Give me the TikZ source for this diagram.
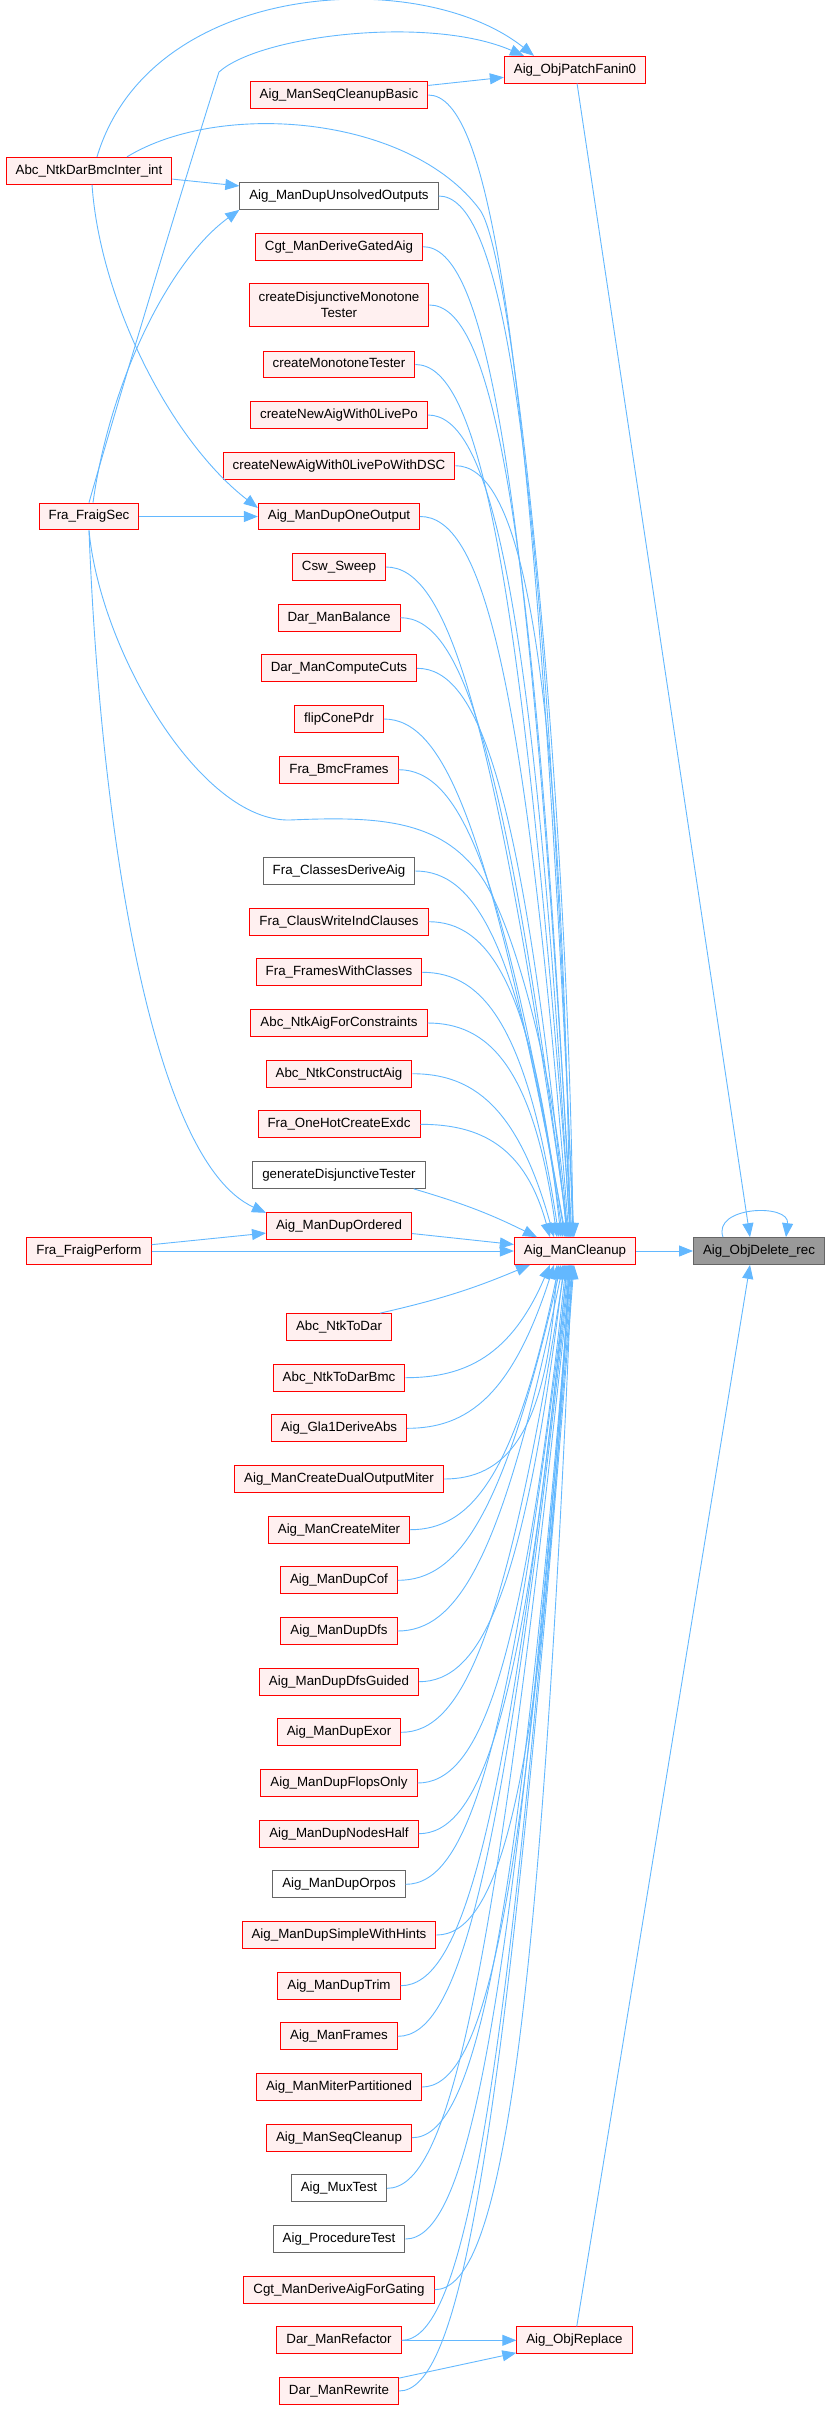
\documentclass[tikz,border=0pt]{standalone}
\usepackage{fontspec}
\setmainfont{Liberation Sans}
\usepackage{tikz}
\usetikzlibrary{shapes, arrows.meta, positioning}
\usetikzlibrary{calc}
\definecolor{linkblue}{HTML}{63B8FF}
\definecolor{redfill}{HTML}{FFF0F0}
\definecolor{greyline}{HTML}{666666}
\definecolor{targetfill}{HTML}{999999}

\begin{document}
\begin{tikzpicture}
  [
    x=1pt, y=-1pt,
    >={Triangle[length=14pt, width=11pt]},
    Box/.style={rectangle, line width=1pt, minimum height=26.7pt, inner xsep=9.5pt, inner ysep=0pt, text height=9.6pt, text depth=2.8pt, font=\fontsize{13.33}{15.7}\selectfont},
    Red/.style={Box, draw=red, fill=redfill},
    Gray/.style={Box, draw=greyline, fill=white},
    Target/.style={Box, draw=greyline, fill=targetfill},
    Multi/.style={Red, align=center, text height=, text depth=, minimum height=43pt},
    Link/.style={draw=linkblue, line width=0.9pt}
  ]
  \useasboundingbox (0,0) rectangle (826,2410);
  % Nodes
  \node[Red] (abcbmcint) at (89, 170.7) {Abc\_NtkDarBmcInter\_int};
  \node[Red] (fraigsec) at (89, 516.5) {Fra\_FraigSec};
  \node[Red] (fraigperform) at (89, 1251) {Fra\_FraigPerform};

  \node[Red] (seqcleanupbasic) at (339, 95) {Aig\_ManSeqCleanupBasic};
  \node[Gray] (dupunsolved) at (339, 196) {Aig\_ManDupUnsolvedOutputs};
  \node[Red] (cgtgated) at (339, 246.7) {Cgt\_ManDeriveGatedAig};
  \node[Multi] (createdisj) at (339, 305) {createDisjunctiveMonotone\\Tester};
  \node[Red] (createmono) at (339, 364.5) {createMonotoneTester};
  \node[Red] (newaig) at (339, 415) {createNewAigWith0LivePo};
  \node[Red] (newaigdsc) at (339, 465.7) {createNewAigWith0LivePoWithDSC};
  \node[Red] (duponeout) at (339, 516.5) {Aig\_ManDupOneOutput};
  \node[Red] (csw) at (339, 567) {Csw\_Sweep};
  \node[Red] (darbalance) at (339, 617.7) {Dar\_ManBalance};
  \node[Red] (darcuts) at (339, 668.3) {Dar\_ManComputeCuts};
  \node[Red] (flipcone) at (339, 719) {flipConePdr};
  \node[Red] (frabmc) at (339, 769.7) {Fra\_BmcFrames};
  \node[Gray] (fraclasses) at (339, 871) {Fra\_ClassesDeriveAig};
  \node[Red] (fraclaus) at (339, 921.7) {Fra\_ClausWriteIndClauses};
  \node[Red] (fraframes) at (339, 972.3) {Fra\_FramesWithClasses};
  \node[Red] (abcconstr) at (339, 1023) {Abc\_NtkAigForConstraints};
  \node[Red] (abcconstruct) at (339, 1073.7) {Abc\_NtkConstructAig};
  \node[Red] (onehot) at (339, 1124.3) {Fra\_OneHotCreateExdc};
  \node[Gray] (gendisj) at (339, 1175) {generateDisjunctiveTester};
  \node[Red] (dupordered) at (339, 1225.7) {Aig\_ManDupOrdered};
  \node[Red] (abctodar) at (339, 1327) {Abc\_NtkToDar};
  \node[Red] (abctodarbmc) at (339, 1377.7) {Abc\_NtkToDarBmc};
  \node[Red] (gla1) at (339, 1428.3) {Aig\_Gla1DeriveAbs};
  \node[Red] (dualmiter) at (339, 1479) {Aig\_ManCreateDualOutputMiter};
  \node[Red] (createmiter) at (339, 1529.7) {Aig\_ManCreateMiter};
  \node[Red] (dupcof) at (339, 1580.3) {Aig\_ManDupCof};
  \node[Red] (dupdfs) at (339, 1631) {Aig\_ManDupDfs};
  \node[Red] (dupdfsguided) at (339, 1681.7) {Aig\_ManDupDfsGuided};
  \node[Red] (dupexor) at (339, 1732.3) {Aig\_ManDupExor};
  \node[Red] (dupflops) at (339, 1783) {Aig\_ManDupFlopsOnly};
  \node[Red] (dupnodeshalf) at (339, 1833.7) {Aig\_ManDupNodesHalf};
  \node[Gray] (duporpos) at (339, 1884.3) {Aig\_ManDupOrpos};
  \node[Red] (dupsimple) at (339, 1935) {Aig\_ManDupSimpleWithHints};
  \node[Red] (duptrim) at (339, 1985.7) {Aig\_ManDupTrim};
  \node[Red] (manframes) at (339, 2036.3) {Aig\_ManFrames};
  \node[Red] (miterpart) at (339, 2087) {Aig\_ManMiterPartitioned};
  \node[Red] (seqcleanup) at (339, 2137.7) {Aig\_ManSeqCleanup};
  \node[Gray] (muxtest) at (339, 2188.3) {Aig\_MuxTest};
  \node[Gray] (proctest) at (339, 2239) {Aig\_ProcedureTest};
  \node[Red] (cgtgating) at (339, 2289.7) {Cgt\_ManDeriveAigForGating};
  \node[Red] (darrefactor) at (339, 2340.3) {Dar\_ManRefactor};
  \node[Red] (darrewrite) at (339, 2391) {Dar\_ManRewrite};

  \node[Red] (patch) at (575, 69.7) {Aig\_ObjPatchFanin0};
  \node[Red] (cleanup) at (575, 1251) {Aig\_ManCleanup};
  \node[Red] (objreplace) at (574.5, 2340.3) {Aig\_ObjReplace};
  \node[Target] (objdelete) at (759, 1251) {Aig\_ObjDelete\_rec};

  % Lines
  \path [->, draw, Link] ([xshift=-36]objdelete.north) .. controls (712,1206) and (790,1203) .. ([xshift=27]objdelete.north);
  \path [->, draw, Link] (cleanup) -- (objdelete);
  \path [->, draw, Link] (patch) -- ([xshift=-9]objdelete.north);
  \path [->, draw, Link] (objreplace) -- ([xshift=-9]objdelete.south);
  \path [->, draw, Link] (darrefactor) -- (objreplace);
  \path [->, draw, Link] (darrewrite) -- (objreplace);

  \path [->, draw, Link] (seqcleanupbasic) -- (patch);
  \path [->, draw, Link] ([xshift=8]abcbmcint.north) .. controls (150,-20) and (420,-35) .. ([xshift=-41]patch.north);
  \path [->, draw, Link] (fraigsec.north) .. controls (118,400) and (200,130) .. (219,72) .. controls (260,35) and (430,15) .. ([xshift=-51]patch.north);

  \path [->, draw, Link] (abcbmcint) -- (dupunsolved);
  \path [->, draw, Link] ([xshift=4]fraigsec.north) .. controls (110,380) and (170,260) .. (dupunsolved.south west);
  \path [->, draw, Link] ([xshift=3]abcbmcint.south) .. controls (100,300) and (170,440) .. (duponeout.174);
  \path [->, draw, Link] (fraigsec) -- (duponeout);
  \path [->, draw, Link] (fraigsec.south) .. controls (100,820) and (150,1160) .. (dupordered.170);
  \path [->, draw, Link] (fraigperform) -- (dupordered);
  \path [->, draw, Link] (fraigperform) -- (cleanup);
  \path [->, draw, Link] (dupordered) -- (cleanup);
  \path [->, draw, Link] ([xshift=38]abcbmcint.north) .. controls (220,100) and (410,115) .. (480,210) .. controls (515,258) and (568,800) .. ([xshift=-2]cleanup.north);
  \path [->, draw, Link] (fraigsec.south) .. controls (100,650) and (200,822) .. (290,820) .. controls (380,816) and (440,820) .. (480,875) .. controls (516,924) and (560,1100) .. ([xshift=-8]cleanup.north);

  \path [->, draw, Link] (seqcleanupbasic.east) .. controls +(60,0) and +(-41,-914) .. ([xshift=-1]cleanup.north);
  \path [->, draw, Link] (dupunsolved.east) .. controls +(60,0) and +(-30,-834) .. ([xshift=-2]cleanup.north);
  \path [->, draw, Link] (cgtgated.east) .. controls +(60,0) and +(-45,-793) .. ([xshift=-3]cleanup.north);
  \path [->, draw, Link] (createdisj.east) .. controls +(60,0) and +(-37,-746) .. ([xshift=-4]cleanup.north);
  \path [->, draw, Link] (createmono.east) .. controls +(60,0) and +(-52,-699) .. ([xshift=-4]cleanup.north);
  \path [->, draw, Link] (newaig.east) .. controls +(60,0) and +(-37,-658) .. ([xshift=-5]cleanup.north);
  \path [->, draw, Link] (newaigdsc.east) .. controls +(60,0) and +(-9,-618) .. ([xshift=-5]cleanup.north);
  \path [->, draw, Link] (duponeout.east) .. controls +(60,0) and +(-45,-578) .. ([xshift=-6]cleanup.north);
  \path [->, draw, Link] (csw.east) .. controls +(60,0) and +(-77,-537) .. ([xshift=-6]cleanup.north);
  \path [->, draw, Link] (darbalance.east) .. controls +(60,0) and +(-63,-496) .. ([xshift=-7]cleanup.north);
  \path [->, draw, Link] (darcuts.east) .. controls +(60,0) and +(-45,-456) .. ([xshift=-8]cleanup.north);
  \path [->, draw, Link] (flipcone.east) .. controls +(60,0) and +(-77,-415) .. ([xshift=-9]cleanup.north);
  \path [->, draw, Link] (frabmc.east) .. controls +(60,0) and +(-62,-374) .. ([xshift=-10]cleanup.north);
  \path [->, draw, Link] (fraclasses.east) .. controls +(60,0) and +(-43,-294) .. ([xshift=-12]cleanup.north);
  \path [->, draw, Link] (fraclaus.east) .. controls +(60,0) and +(-28,-253) .. ([xshift=-14]cleanup.north);
  \path [->, draw, Link] (fraframes.east) .. controls +(60,0) and +(-32,-213) .. ([xshift=-16]cleanup.north);
  \path [->, draw, Link] (abcconstr.east) .. controls +(60,0) and +(-24,-172) .. ([xshift=-18]cleanup.north);
  \path [->, draw, Link] (abcconstruct.east) .. controls +(60,0) and +(-36,-131) .. ([xshift=-21]cleanup.north);
  \path [->, draw, Link] (onehot.east) .. controls +(60,0) and +(-25,-91) .. ([xshift=-25]cleanup.north);
  \path [->, draw, Link] ([xshift=-12]gendisj.south east) to[bend left=5] ([xshift=-38]cleanup.north);

  \path [->, draw, Link] ([xshift=-12]abctodar.north east) to[bend right=5] ([xshift=-45]cleanup.south);
  \path [->, draw, Link] (abctodarbmc.east) .. controls +(60,0) and +(-39,91) .. ([xshift=-25]cleanup.south);
  \path [->, draw, Link] (gla1.east) .. controls +(60,0) and +(-42,131) .. ([xshift=-21]cleanup.south);
  \path [->, draw, Link] (dualmiter.east) .. controls +(60,0) and +(-10,172) .. ([xshift=-18]cleanup.south);
  \path [->, draw, Link] (createmiter.east) .. controls +(60,0) and +(-44,213) .. ([xshift=-16]cleanup.south);
  \path [->, draw, Link] (dupcof.east) .. controls +(60,0) and +(-58,253) .. ([xshift=-14]cleanup.south);
  \path [->, draw, Link] (dupdfs.east) .. controls +(60,0) and +(-60,294) .. ([xshift=-12]cleanup.south);
  \path [->, draw, Link] (dupdfsguided.east) .. controls +(60,0) and +(-40,334) .. ([xshift=-11]cleanup.south);
  \path [->, draw, Link] (dupexor.east) .. controls +(60,0) and +(-59,374) .. ([xshift=-10]cleanup.south);
  \path [->, draw, Link] (dupflops.east) .. controls +(60,0) and +(-44,415) .. ([xshift=-9]cleanup.south);
  \path [->, draw, Link] (dupnodeshalf.east) .. controls +(60,0) and +(-43,456) .. ([xshift=-8]cleanup.south);
  \path [->, draw, Link] (duporpos.east) .. controls +(60,0) and +(-58,496) .. ([xshift=-7]cleanup.south);
  \path [->, draw, Link] (dupsimple.east) .. controls +(60,0) and +(-27,537) .. ([xshift=-6]cleanup.south);
  \path [->, draw, Link] (duptrim.east) .. controls +(60,0) and +(-64,578) .. ([xshift=-6]cleanup.south);
  \path [->, draw, Link] (manframes.east) .. controls +(60,0) and +(-68,618) .. ([xshift=-5]cleanup.south);
  \path [->, draw, Link] (miterpart.east) .. controls +(60,0) and +(-44,658) .. ([xshift=-5]cleanup.south);
  \path [->, draw, Link] (seqcleanup.east) .. controls +(60,0) and +(-55,699) .. ([xshift=-4]cleanup.south);
  \path [->, draw, Link] (muxtest.east) .. controls +(60,0) and +(-78,739) .. ([xshift=-4]cleanup.south);
  \path [->, draw, Link] (proctest.east) .. controls +(60,0) and +(-62,780) .. ([xshift=-3]cleanup.south);
  \path [->, draw, Link] (cgtgating.east) .. controls +(60,0) and +(-34,821) .. ([xshift=-3]cleanup.south);
  \path [->, draw, Link] (darrefactor.east) .. controls +(60,0) and +(-67,861) .. ([xshift=-2]cleanup.south);
  \path [->, draw, Link] (darrewrite.east) .. controls +(60,0) and +(-70,902) .. ([xshift=-1]cleanup.south);
\end{tikzpicture}
\end{document}
